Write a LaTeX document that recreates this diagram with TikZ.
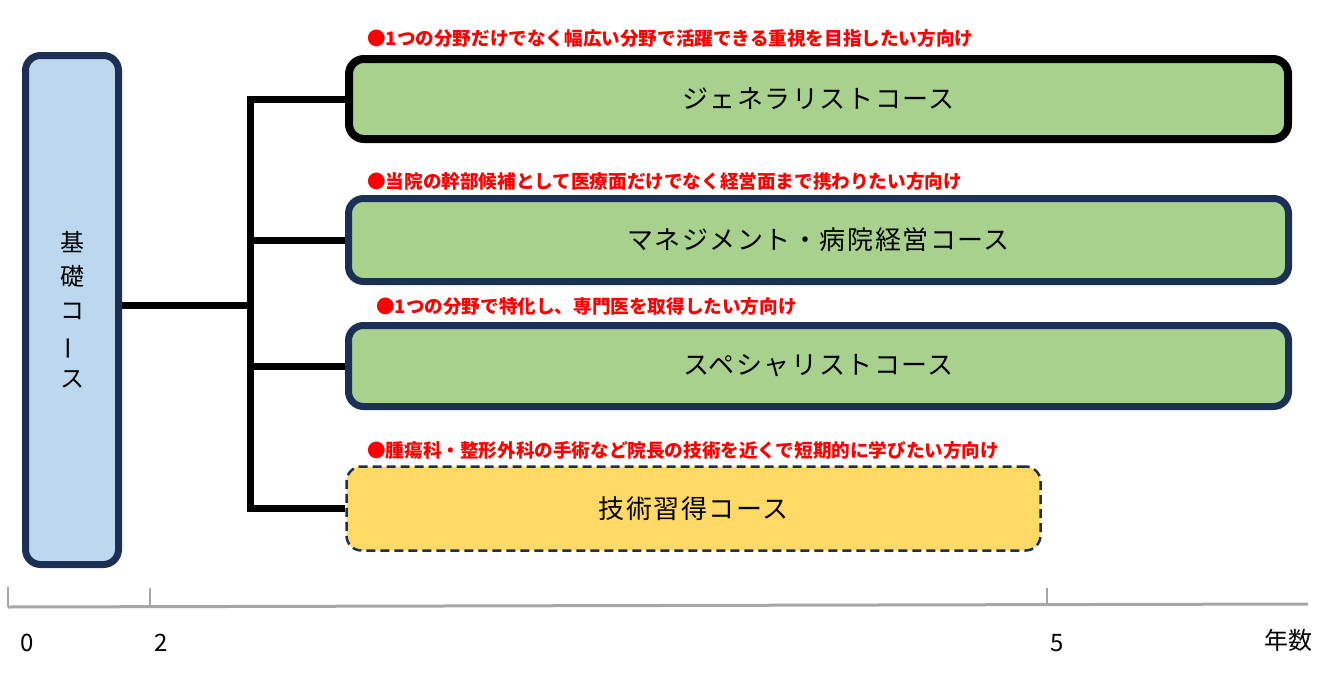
\documentclass[tikz,border=0pt]{standalone}
\usepackage{fontspec}
\usetikzlibrary{backgrounds}
\newfontfamily\jp{Noto Sans CJK JP}
\newfontfamily\jpls[LetterSpace=6]{Noto Sans CJK JP}
\definecolor{navy}{HTML}{1C2F54}
\definecolor{lblue}{HTML}{BDD7EE}
\definecolor{lgreen}{HTML}{A9D18E}
\definecolor{gold}{HTML}{FFD966}
\definecolor{axisgray}{HTML}{A6A6A6}
\definecolor{notered}{HTML}{FF0000}
\tikzset{
  course/.style={draw=navy, line width=7pt, rounded corners=15pt, fill=lgreen, inner sep=0pt,
    font=\jpls\fontsize{26}{30}\selectfont, text=black},
  notetext/.style={anchor=west, inner sep=0pt, text=notered, font=\jp\bfseries\fontsize{18.6}{22}\selectfont},
  conn/.style={line width=7pt, black},
  axislabel/.style={inner sep=0pt, font=\jp\fontsize{24}{28}\selectfont, text=black},
}
\begin{document}
\begin{tikzpicture}[x=1pt, y=-1pt]
\useasboundingbox (0,0) rectangle (1320,680);
% boxes
\node[course, fill=lblue, minimum width=93pt, minimum height=509pt, align=center,
      font=\jp\fontsize{24}{34}\selectfont] (base) at (72,310)
      {基\\礎\\コ\\\rotatebox[origin=c]{90}{ー}\\ス};
\node[course, draw=black, line width=8pt, minimum width=939pt, minimum height=80pt] (gen) at (818.5,99) {ジェネラリストコース};
\node[course, minimum width=940pt, minimum height=83pt] (mgmt) at (818.5,240) {マネジメント・病院経営コース};
\node[course, minimum width=940pt, minimum height=81pt] (spec) at (818.5,366) {スペシャリストコース};
\node[course, fill=gold, line width=2.5pt, dash pattern=on 9pt off 5pt, minimum width=694pt, minimum height=84pt] (tech) at (693.5,508.5) {技術習得コース};
% connectors
\coordinate (trunk) at (250,305);
\begin{scope}[on background layer]
\draw[conn] ([yshift=5pt]base.east) -- ([yshift=5pt]base.east -| trunk);
\draw[conn, line join=miter] (gen.west) -- (gen.west -| trunk) -- (tech.west -| trunk) -- (tech.west);
\draw[conn] (mgmt.west -| trunk) -- (mgmt.west);
\draw[conn] (spec.west -| trunk) -- (spec.west);
\end{scope}
% notes
\node[notetext] (n1) at (367,38) {●1つの分野だけでなく幅広い分野で活躍できる重視を目指したい方向け};
\node[notetext] (n2) at (367,181) {●当院の幹部候補として医療面だけでなく経営面まで携わりたい方向け};
\node[notetext] (n3) at (376,306) {●1つの分野で特化し、専門医を取得したい方向け};
\node[notetext] (n4) at (367,450) {●腫瘍科・整形外科の手術など院長の技術を近くで短期的に学びたい方向け};
% axis
\coordinate (a0) at (8,607);
\coordinate (a2) at (150,606.5);
\coordinate (a5) at (1047,604.5);
\coordinate (aend) at (1308,604);
\draw[axisgray, line width=3pt] (a0) -- (aend);
\draw[axisgray, line width=2pt] (a0) -- ++(0,-20);
\draw[axisgray, line width=2pt] (a2) -- ++(0,-19);
\draw[axisgray, line width=2pt] (a5) -- ++(0,-17);
\node[axislabel] (l0) at (27,643) {0};
\node[axislabel] (l2) at (161,643) {2};
\node[axislabel] (l5) at (1057,643) {5};
\node[axislabel] (ly) at (1288,640) {年数};
\end{tikzpicture}
\end{document}
